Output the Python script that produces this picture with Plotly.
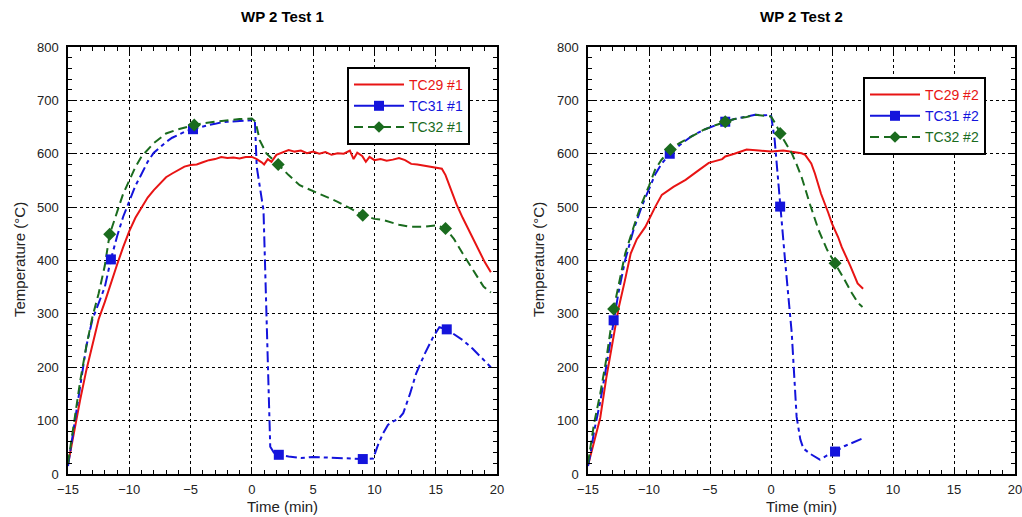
import plotly.graph_objects as go

# ---- Test 1 ----
t29_1 = [-15, -14.5, -14, -13.5, -13, -12.5, -12, -11.5, -11, -10.5, -10, -9.5, -9, -8.5, -8, -7.5, -7,
         -6.5, -6, -5.5, -5, -4.5, -4, -3.5, -3, -2.5, -2, -1.5, -1, -0.5, 0, 0.4, 0.8, 1.0, 1.3, 1.6,
         2, 2.5, 3, 3.5, 4, 4.5, 5, 5.5, 6, 6.5, 7, 7.5, 8, 8.3, 8.6, 9, 9.3, 9.6, 10, 10.5, 11, 11.5,
         12, 12.5, 13, 13.5, 14, 14.5, 15, 15.5, 15.8, 16.2, 16.7, 17.2, 17.8, 18.5, 19, 19.5]
tc29_1 = [18, 80, 140, 195, 245, 290, 322, 358, 392, 425, 455, 480, 500, 518, 532, 545, 556,
          563, 569, 576, 579, 580, 584, 588, 590, 594, 592, 593, 591, 594, 594, 590, 584, 580, 590, 585,
          598, 602, 607, 604, 606, 601, 604, 600, 603, 598, 601, 600, 606, 590, 602, 596, 585, 594, 588, 590, 587, 589,
          592, 588, 581, 580, 578, 575, 573, 572, 560, 535, 505, 480, 452, 420, 397, 378]

t31_1 = [-15, -14.5, -14, -13.5, -13, -12.5, -12, -11.5, -11, -10.5, -10, -9.5, -9, -8.5, -8, -7.5, -7,
         -6.5, -6, -5.5, -5, -4.5, -4, -3.5, -3, -2.5, -2, -1.5, -1, -0.5, 0, 0.25, 0.4, 0.95, 1.2, 1.5,
         1.8, 2.2, 3, 4, 5, 6, 7, 8, 9.05, 9.9, 10.3, 10.7, 11.1, 11.5, 12, 12.35, 12.9, 13.4, 14.1, 14.8,
         15.3, 15.9, 16.5, 17.2, 18, 18.7, 19.3, 19.5]
tc31_1 = [15, 90, 170, 240, 290, 320, 350, 402, 445, 482, 513, 540, 562, 585, 602, 612, 622,
          630, 636, 641, 645, 648, 652, 654, 656, 659, 660, 661, 662, 663, 663, 660, 575, 494, 301, 51,
          40, 36, 33, 30, 32, 31, 30, 29, 28, 29, 55, 76, 92, 98, 104, 114, 150, 188, 225, 257,
          275, 271, 262, 251, 235, 218, 203, 200]

t32_1 = [-15, -14.5, -14, -13.5, -13, -12.5, -12, -11.6, -11, -10.5, -10, -9.5, -9, -8.5, -8, -7, -6,
         -5, -4, -3, -2, -1, 0, 0.3, 0.65, 1.2, 2.15, 3, 3.9, 5, 6.1, 7, 8, 9.05, 10, 10.7, 12, 12.9,
         14, 15.1, 15.8, 16.5, 17.2, 18, 18.9, 19.5]
tc32_1 = [20, 100, 175, 240, 295, 338, 390, 449, 490, 525, 550, 575, 595, 608, 620, 638, 646,
          652, 657, 660, 663, 665, 666, 660, 625, 600, 580, 560, 541, 530, 519, 510, 498, 485, 478, 476, 467, 463,
          463, 466, 460, 440, 413, 385, 351, 340]

mk31_1_t = [-11.5, -4.8, 2.2, 9.05, 15.9]
mk31_1_v = [402, 646, 36, 28, 271]
mk32_1_t = [-11.6, -4.7, 2.15, 9.05, 15.8]
mk32_1_v = [449, 654, 580, 485, 460]

# ---- Test 2 ----
t29_2 = [-15, -14.5, -14, -13.5, -12.9, -12.5, -12, -11.5, -11, -10.3, -9.5, -8.95, -8, -7, -6, -5.1, -4,
         -3.75, -3, -2, -1, 0, 1, 1.7, 2.5, 2.8, 3.3, 3.6, 4.1, 4.7, 5.0, 5.5, 5.8, 6.5, 7.1, 7.55]
tc29_2 = [16, 60, 105, 180, 263, 310, 360, 413, 440, 463, 500, 523, 538, 551, 568, 583, 590,
          595, 600, 608, 606, 604, 606, 604, 601, 598, 582, 563, 525, 489, 469, 444, 425, 390, 357, 347]

t31_2 = [-15, -14.8, -14.5, -14, -13.6, -12.9, -12.5, -11.95, -11.3, -10.6, -10, -9.5, -9, -8.3, -7.5,
         -6.5, -5.5, -4.5, -3.75, -3, -2, -1.3, -0.5, 0, 0.3, 0.75, 1.15, 1.7, 2.1, 2.4, 2.65, 3.2, 4.0,
         4.6, 5.25, 6, 6.8, 7.45]
tc31_2 = [15, 38, 80, 135, 188, 288, 340, 401, 455, 501, 535, 561, 580, 600, 616,
          633, 645, 654, 660, 665, 670, 673, 672, 673, 626, 501, 401, 264, 107, 65, 48, 38, 27,
          35, 42, 52, 60, 66]

t32_2 = [-15, -14.8, -14.5, -14, -13.5, -12.9, -12.5, -11.95, -11.3, -10.7, -10, -9.5, -9, -8.25, -7.5,
         -6.5, -5.5, -4.5, -3.75, -3, -2, -1.3, -0.5, 0, 0.4, 0.75, 1.2, 1.7, 2.1, 2.5, 3.2, 3.9, 4.6,
         5.25, 6, 6.6, 7.15, 7.5]
tc32_2 = [20, 50, 95, 150, 215, 309, 355, 413, 460, 501, 540, 570, 588, 608, 620,
          633, 645, 654, 660, 665, 669, 673, 671, 670, 655, 638, 620, 601, 580, 557, 505, 457, 420,
          395, 365, 340, 320, 313]

mk31_2_t = [-12.9, -8.3, -3.75, 0.75, 5.25]
mk31_2_v = [288, 600, 660, 501, 42]
mk32_2_t = [-12.9, -8.25, -3.75, 0.75, 5.25]
mk32_2_v = [309, 608, 660, 638, 395]

RED = "#e81414"
BLUE = "#1414dc"
GREEN = "#1a6b1e"
FONT = "Liberation Sans, Arial, sans-serif"
DASH31 = "11px,4px,4px,4px"
DASH32 = "9px,5px"

fig = go.Figure()


def add_test(xa, ya, legend, n, t29, v29, t31, v31, t32, v32, m31t, m31v, m32t, m32v):
    fig.add_trace(go.Scatter(x=t29, y=v29, mode="lines", xaxis=xa, yaxis=ya, showlegend=False,
                             line=dict(color=RED, width=2)))
    fig.add_trace(go.Scatter(x=t31, y=v31, mode="lines", xaxis=xa, yaxis=ya, showlegend=False,
                             line=dict(color=BLUE, width=2, dash=DASH31)))
    fig.add_trace(go.Scatter(x=t32, y=v32, mode="lines", xaxis=xa, yaxis=ya, showlegend=False,
                             line=dict(color=GREEN, width=2, dash=DASH32)))
    fig.add_trace(go.Scatter(x=m31t, y=m31v, mode="markers", xaxis=xa, yaxis=ya, showlegend=False,
                             marker=dict(color=BLUE, symbol="square", size=10)))
    fig.add_trace(go.Scatter(x=m32t, y=m32v, mode="markers", xaxis=xa, yaxis=ya, showlegend=False,
                             marker=dict(color=GREEN, symbol="diamond", size=10)))
    # legend-only entries
    fig.add_trace(go.Scatter(x=[None], y=[None], mode="lines", xaxis=xa, yaxis=ya, legend=legend,
                             name=f"<span style='color:{RED}'>TC29 #{n}</span>",
                             line=dict(color=RED, width=2)))
    fig.add_trace(go.Scatter(x=[None], y=[None], mode="lines+markers", xaxis=xa, yaxis=ya, legend=legend,
                             name=f"<span style='color:{BLUE}'>TC31 #{n}</span>",
                             line=dict(color=BLUE, width=2),
                             marker=dict(color=BLUE, symbol="square", size=10)))
    fig.add_trace(go.Scatter(x=[None], y=[None], mode="lines+markers", xaxis=xa, yaxis=ya, legend=legend,
                             name=f"<span style='color:{GREEN}'>TC32 #{n}</span>",
                             line=dict(color=GREEN, width=2, dash=DASH32),
                             marker=dict(color=GREEN, symbol="diamond", size=9)))


add_test("x", "y", "legend", 1, t29_1, tc29_1, t31_1, tc31_1, t32_1, tc32_1,
         mk31_1_t, mk31_1_v, mk32_1_t, mk32_1_v)
add_test("x2", "y2", "legend2", 2, t29_2, tc29_2, t31_2, tc31_2, t32_2, tc32_2,
         mk31_2_t, mk31_2_v, mk32_2_t, mk32_2_v)

# a little wider than the window so the last "20" tick label is not dropped
W, H = 1034, 517


def px(x):
    return x / W


def py(y):
    return 1 - y / H


xcommon = dict(range=[-15, 20], dtick=5, tick0=-15, ticks="inside", ticklen=7, tickcolor="black",
               showline=True, linecolor="black", linewidth=1.5, mirror="allticks", automargin=False,
               showgrid=True, gridcolor="black", griddash="dot", gridwidth=1, zeroline=False,
               ticklabelstandoff=3, ticklabeloverflow="allow",
               minor=dict(ticks="inside", dtick=1, ticklen=4, tickcolor="black", showgrid=False),
               tickfont=dict(family=FONT, size=13, color="#222"))
ycommon = dict(range=[0, 800], dtick=100, ticks="inside", ticklen=7, tickcolor="black",
               showline=True, linecolor="black", linewidth=1.5, mirror="allticks", automargin=False,
               showgrid=True, gridcolor="black", griddash="dot", gridwidth=1, zeroline=False,
               ticklabelstandoff=5,
               minor=dict(ticks="inside", dtick=20, ticklen=4, tickcolor="black", showgrid=False),
               tickfont=dict(family=FONT, size=13, color="#222"))

legcommon = dict(bgcolor="white", bordercolor="black", borderwidth=2, xanchor="left", yanchor="top",
                 font=dict(family=FONT, size=14), itemwidth=50, tracegroupgap=0)

fig.update_layout(
    width=W, height=H, margin=dict(l=0, r=0, t=0, b=0, autoexpand=False),
    paper_bgcolor="white", plot_bgcolor="white",
    xaxis=dict(domain=[px(68), px(497)], anchor="y", **xcommon),
    yaxis=dict(domain=[py(474), py(47)], anchor="x", **ycommon),
    xaxis2=dict(domain=[px(588), px(1015)], anchor="y2", **xcommon),
    yaxis2=dict(domain=[py(474), py(47)], anchor="x2", **ycommon),
    legend=dict(x=px(347), y=py(67), **legcommon),
    legend2=dict(x=px(863), y=py(77), **legcommon),
)

for cx, label in [(282, "WP 2 Test 1"), (801, "WP 2 Test 2")]:
    fig.add_annotation(x=px(cx), y=py(17), xref="paper", yref="paper", text=f"<b>{label}</b>",
                       xanchor="center", yanchor="middle",
                       showarrow=False, font=dict(family=FONT, size=15, color="black"))
    fig.add_annotation(x=px(cx), y=py(506), xref="paper", yref="paper", text="Time (min)",
                       xanchor="center", yanchor="middle",
                       showarrow=False, font=dict(family=FONT, size=15, color="#222"))
for cx in [19, 538]:
    fig.add_annotation(x=px(cx), y=py(260), xref="paper", yref="paper", text="Temperature (°C)",
                       xanchor="center", yanchor="middle",
                       textangle=-90, showarrow=False, font=dict(family=FONT, size=15, color="#222"))

# drop the default page margin so the figure sits at the window's corner
fig.write_html("out.html", config={"displayModeBar": False},
               post_script="document.body.style.margin = '0'; document.body.style.overflow = 'hidden';")
